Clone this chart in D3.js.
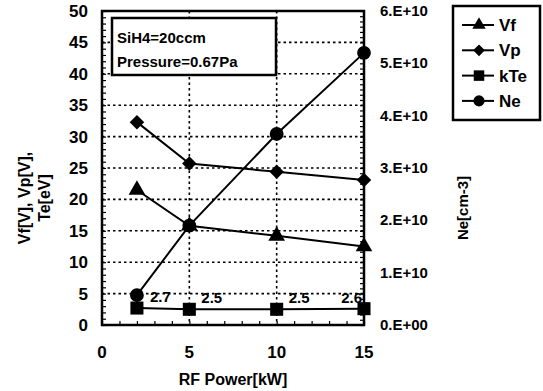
<!DOCTYPE html>
<html>
<head>
<meta charset="utf-8">
<script src="https://cdn.jsdelivr.net/npm/d3@7"></script>
<style>
  body { margin: 0; background: #fff; }
  text { font-family: "Liberation Sans", Arial, sans-serif; font-weight: bold; fill: #000; }
</style>
</head>
<body>
<div id="chart"></div>
<script>
// RF power settings (x values)
var power = [2, 5, 10, 15];
// series values
var vf = [21.5, 15.8, 14.2, 12.5];
var vp = [32.3, 25.7, 24.4, 23.1];
var kte = [2.7, 2.5, 2.5, 2.6];
var ne = [5.7e9, 1.9e10, 3.65e10, 5.2e10];
var kteLabels = ["2.7", "2.5", "2.5", "2.6"];
var leftTicks = [0, 5, 10, 15, 20, 25, 30, 35, 40, 45, 50];
var rightTicks = [0, 1e10, 2e10, 3e10, 4e10, 5e10, 6e10];
var xTicks = [0, 5, 10, 15];

function init() {
    var w = 543, h = 391;
    var left = 102, right = 364, top = 11, bottom = 325;

    var svg = d3.select("#chart").append("svg")
        .attr("width", w).attr("height", h);

    var x = d3.scaleLinear().domain([0, 15]).range([left, right]);
    var y = d3.scaleLinear().domain([0, 50]).range([bottom, top]);
    var y2 = d3.scaleLinear().domain([0, 6e10]).range([bottom, top]);

    // dotted grid
    var grid = svg.append("g").attr("stroke", "#000").attr("stroke-width", 1.6)
        .attr("stroke-dasharray", "2.5,3");
    grid.selectAll(".hg").data(leftTicks.slice(1, -1)).enter().append("line")
        .attr("x1", left).attr("x2", right)
        .attr("y1", function(d) { return y(d); }).attr("y2", function(d) { return y(d); });
    grid.selectAll(".vg").data([5, 10]).enter().append("line")
        .attr("y1", top).attr("y2", bottom)
        .attr("x1", function(d) { return x(d); }).attr("x2", function(d) { return x(d); });

    // axes with inner minor ticks
    var leftAxis = d3.axisRight(y).ticks(50).tickSize(4).tickFormat("");
    svg.append("g").attr("transform", "translate(" + left + ",0)").call(leftAxis);
    var rightAxis = d3.axisLeft(y2).tickValues(d3.range(0, 6.01e10, 1e9)).tickSize(4).tickFormat("");
    svg.append("g").attr("transform", "translate(" + right + ",0)").call(rightAxis);
    var bottomAxis = d3.axisTop(x).ticks(15).tickSize(4).tickFormat("");
    svg.append("g").attr("transform", "translate(0," + bottom + ")").call(bottomAxis);
    svg.selectAll(".domain").remove();
    svg.selectAll(".tick line").attr("stroke", "#000").attr("stroke-width", 1.2);

    // frame
    svg.append("rect").attr("x", left).attr("y", top)
        .attr("width", right - left).attr("height", bottom - top)
        .attr("fill", "none").attr("stroke", "#000").attr("stroke-width", 2.5);

    // tick labels
    svg.selectAll(".lt").data(leftTicks).enter().append("text")
        .attr("x", 88).attr("y", function(d) { return y(d) + 6; })
        .attr("text-anchor", "end").style("font-size", "17px")
        .text(function(d) { return d; });
    svg.selectAll(".rt").data(rightTicks).enter().append("text")
        .attr("x", 380).attr("y", function(d) { return y2(d) + 5; })
        .style("font-size", "15px")
        .text(function(d) { return (d / 1e10).toFixed(0) + ".E+" + (d === 0 ? "00" : "10"); });
    svg.selectAll(".xt").data(xTicks).enter().append("text")
        .attr("x", function(d) { return x(d); }).attr("y", 358)
        .attr("text-anchor", "middle").style("font-size", "17px")
        .text(function(d) { return d; });

    // axis titles
    svg.append("text").attr("x", 233).attr("y", 385).attr("text-anchor", "middle")
        .style("font-size", "16px").text("RF Power[kW]");
    svg.append("text").attr("transform", "translate(30,198) rotate(-90)")
        .attr("text-anchor", "middle").style("font-size", "16px").text("Vf[V], Vp[V],");
    svg.append("text").attr("transform", "translate(50,198) rotate(-90)")
        .attr("text-anchor", "middle").style("font-size", "16px").text("Te[eV]");
    svg.append("text").attr("transform", "translate(468,208) rotate(-90)")
        .attr("text-anchor", "middle").style("font-size", "15px").text("Ne[cm-3]");

    // series
    var series = [
        { name: "Vf", values: vf, scale: y, symbol: d3.symbolTriangle, size: 120, rot: 0 },
        { name: "Vp", values: vp, scale: y, symbol: d3.symbolSquare, size: 105, rot: 45 },
        { name: "kTe", values: kte, scale: y, symbol: d3.symbolSquare, size: 170, rot: 0 },
        { name: "Ne", values: ne, scale: y2, symbol: d3.symbolCircle, size: 150, rot: 0 }
    ];

    series.forEach(function(s) {
        var line = d3.line()
            .x(function(d, i) { return x(power[i]); })
            .y(function(d) { return s.scale(d); });
        svg.append("path").datum(s.values).attr("d", line)
            .attr("fill", "none").attr("stroke", "#000").attr("stroke-width", 2);
        svg.selectAll(".m" + s.name).data(s.values).enter().append("path")
            .attr("d", d3.symbol().type(s.symbol).size(s.size))
            .attr("transform", function(d, i) {
                return "translate(" + x(power[i]) + "," + s.scale(d) + ") rotate(" + s.rot + ")";
            })
            .attr("fill", "#000");
    });

    // kTe value labels
    svg.selectAll(".kl").data(kte).enter().append("text")
        .attr("x", function(d, i) { return x(power[i]) + (i === 3 ? -2 : 12) + (i === 0 ? 1 : 0); })
        .attr("y", function(d) { return y(d) - 6; })
        .attr("text-anchor", function(d, i) { return i === 3 ? "end" : "start"; })
        .style("font-size", "15px")
        .text(function(d, i) { return kteLabels[i]; });

    // condition box
    svg.append("rect").attr("x", 112).attr("y", 18).attr("width", 164).attr("height", 57)
        .attr("fill", "#fff").attr("stroke", "#000").attr("stroke-width", 2.5);
    svg.append("text").attr("x", 117).attr("y", 43).style("font-size", "15px").text("SiH4=20ccm");
    svg.append("text").attr("x", 117).attr("y", 67).style("font-size", "15px").text("Pressure=0.67Pa");

    // legend
    svg.append("rect").attr("x", 453).attr("y", 6).attr("width", 87).attr("height", 114)
        .attr("fill", "#fff").attr("stroke", "#000").attr("stroke-width", 2.5);
    series.forEach(function(s, i) {
        var ly = 25 + i * 25.3;
        svg.append("line").attr("x1", 462).attr("x2", 494).attr("y1", ly).attr("y2", ly)
            .attr("stroke", "#000").attr("stroke-width", 2);
        svg.append("path").attr("d", d3.symbol().type(s.symbol).size(s.size * 0.65))
            .attr("transform", "translate(479," + ly + ") rotate(" + s.rot + ")").attr("fill", "#000");
        svg.append("text").attr("x", 499).attr("y", ly + 6).style("font-size", "17px").text(s.name);
    });
}

window.onload = init;
</script>
</body>
</html>
